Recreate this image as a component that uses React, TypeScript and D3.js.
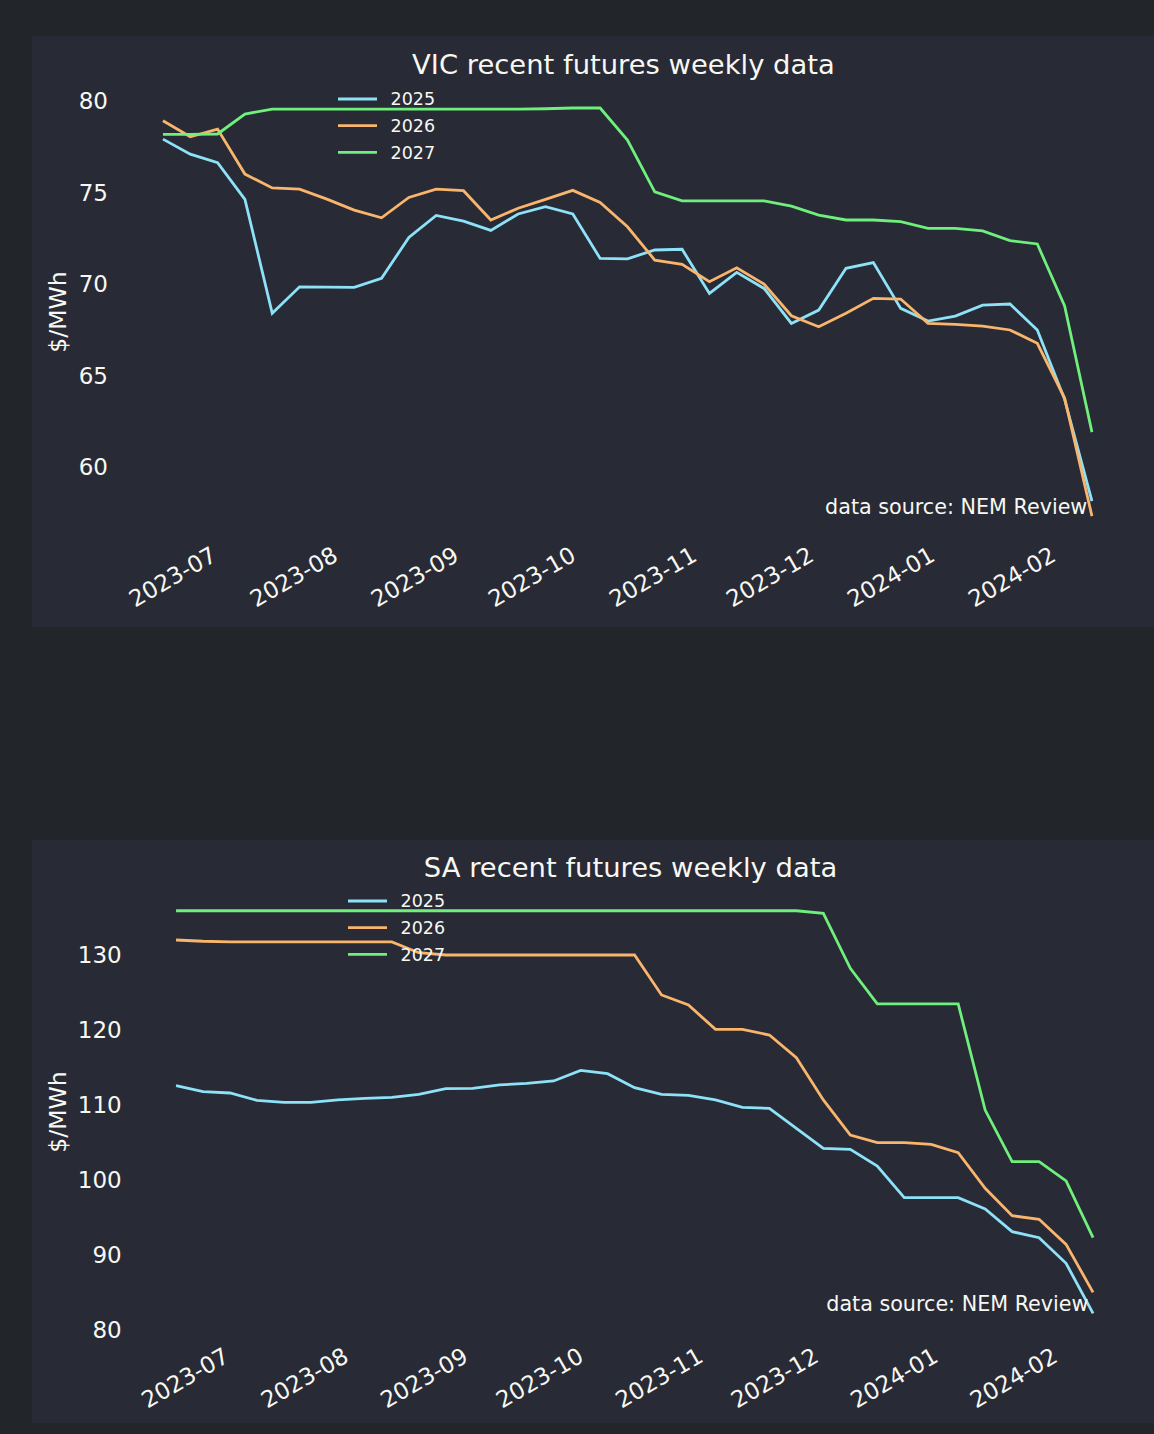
import React from 'react';
import * as d3 from 'd3';

// weekly observation dates
const weeks = [
  '2023-06-19', '2023-06-26', '2023-07-03', '2023-07-10', '2023-07-17', '2023-07-24', '2023-07-31',
  '2023-08-07', '2023-08-14', '2023-08-21', '2023-08-28', '2023-09-04', '2023-09-11', '2023-09-18',
  '2023-09-25', '2023-10-02', '2023-10-09', '2023-10-16', '2023-10-23', '2023-10-30', '2023-11-06',
  '2023-11-13', '2023-11-20', '2023-11-27', '2023-12-04', '2023-12-11', '2023-12-18', '2023-12-25',
  '2024-01-01', '2024-01-08', '2024-01-15', '2024-01-22', '2024-01-29', '2024-02-05', '2024-02-12',
];

const vic2025 = [
  77.92, 77.1, 76.63, 74.63, 68.4, 69.85, 69.83, 69.82, 70.31, 72.55, 73.75, 73.44, 72.93, 73.83,
  74.23, 73.83, 71.4, 71.38, 71.86, 71.9, 69.49, 70.64, 69.76, 67.85, 68.58, 70.86, 71.17, 68.67,
  67.98, 68.25, 68.85, 68.91, 67.49, 63.7, 58.14,
];
const vic2026 = [
  78.92, 78.05, 78.47, 76.01, 75.25, 75.19, 74.64, 74.04, 73.62, 74.73, 75.19, 75.1, 73.5, 74.14,
  74.63, 75.12, 74.46, 73.13, 71.31, 71.08, 70.13, 70.89, 70.0, 68.27, 67.67, 68.4, 69.22, 69.18,
  67.85, 67.8, 67.7, 67.49, 66.76, 63.77, 57.32,
];
const vic2027 = [
  78.18, 78.18, 78.2, 79.29, 79.56, 79.56, 79.56, 79.56, 79.56, 79.56, 79.56, 79.56, 79.56, 79.56,
  79.58, 79.62, 79.62, 77.87, 75.04, 74.55, 74.55, 74.55, 74.55, 74.26, 73.77, 73.5, 73.5, 73.41,
  73.04, 73.04, 72.9, 72.37, 72.19, 68.8, 61.91,
];

const sa2025 = [
  112.57, 111.77, 111.6, 110.62, 110.36, 110.36, 110.67, 110.89, 111.02, 111.42, 112.17, 112.22,
  112.67, 112.89, 113.2, 114.62, 114.17, 112.31, 111.42, 111.29, 110.67, 109.69, 109.56, 106.89,
  104.23, 104.09, 101.87, 97.64, 97.64, 97.64, 96.13, 93.11, 92.31, 88.89, 82.22,
];
const sa2026 = [
  132.0, 131.83, 131.75, 131.75, 131.75, 131.75, 131.75, 131.75, 131.75, 130.3, 130.0, 130.0,
  130.0, 130.0, 130.0, 130.0, 130.0, 130.0, 124.67, 123.33, 120.09, 120.09, 119.33, 116.31,
  110.67, 106.0, 104.98, 104.98, 104.76, 103.64, 98.89, 95.24, 94.76, 91.42, 85.02,
];
const sa2027 = [
  135.9, 135.9, 135.9, 135.9, 135.9, 135.9, 135.9, 135.9, 135.9, 135.9, 135.9, 135.9, 135.9,
  135.9, 135.9, 135.9, 135.9, 135.9, 135.9, 135.9, 135.9, 135.9, 135.9, 135.9, 135.56, 128.22,
  123.47, 123.47, 123.47, 123.47, 109.33, 102.44, 102.44, 99.87, 92.31,
];

const seriesNames = ['2025', '2026', '2027'];
const seriesColors = ['#8de2f8', '#f9b56c', '#6fef7b'];

const monthTicks = [
  '2023-07-01', '2023-08-01', '2023-09-01', '2023-10-01', '2023-11-01', '2023-12-01',
  '2024-01-01', '2024-02-01',
];
const vicTicks = [60, 65, 70, 75, 80];
const saTicks = [80, 90, 100, 110, 120, 130];

const FONT = '"DejaVu Sans", Verdana, sans-serif';
const FG = '#f8f8f2';
const PAGE_BG = '#222529';
const PANEL_BG = '#282a36';

const parse = d3.timeParse('%Y-%m-%d');
const fmt = d3.timeFormat('%Y-%m');

interface Box {
  panelY: number;
  panelH: number;
  left: number;
  right: number;
  top: number;
  bottom: number;
  legendX: number;
  legendY: number;
  xLabelY: number;
}

interface PanelProps {
  title: string;
  series: number[][];
  yTicks: number[];
  box: Box;
}

const Panel: React.FC<PanelProps> = ({ title, series, yTicks, box }) => {
  const dates = weeks.map(d => parse(d) as Date);

  // matplotlib style 5% margins on both axes
  const [d0, d1] = d3.extent(dates) as [Date, Date];
  const xPad = (d1.getTime() - d0.getTime()) * 0.05;
  const x = d3
    .scaleTime()
    .domain([new Date(d0.getTime() - xPad), new Date(d1.getTime() + xPad)])
    .range([box.left, box.right]);

  const all = series.flat();
  const lo = d3.min(all) as number;
  const hi = d3.max(all) as number;
  const yPad = (hi - lo) * 0.05;
  const y = d3
    .scaleLinear()
    .domain([lo - yPad, hi + yPad])
    .range([box.bottom, box.top]);

  const line = d3
    .line<number>()
    .x((_, i) => x(dates[i]))
    .y(v => y(v));

  const cx = (box.left + box.right) / 2 - 4;

  return (
    <g>
      <rect x={32} y={box.panelY} width={1122} height={box.panelH} fill={PANEL_BG} />
      <text x={cx} y={box.top - 13.5} textAnchor="middle" fontSize={27.4} fill={FG}>
        {title}
      </text>

      {/* y axis */}
      {yTicks.map(t => (
        <text
          key={t}
          x={box.left - 8.5}
          y={y(t)}
          dy="0.36em"
          textAnchor="end"
          fontSize={23}
          fill={FG}
        >
          {t}
        </text>
      ))}
      <text
        transform={`translate(66,${(box.top + box.bottom) / 2}) rotate(-90)`}
        textAnchor="middle"
        fontSize={23.5}
        fill={FG}
      >
        $/MWh
      </text>

      {/* x axis */}
      {monthTicks.map(m => {
        const d = parse(m) as Date;
        return (
          <text
            key={m}
            transform={`translate(${x(d)},${box.xLabelY}) rotate(-30)`}
            dy="0.74em"
            textAnchor="end"
            fontSize={23}
            fill={FG}
          >
            {fmt(d)}
          </text>
        );
      })}

      {/* series */}
      {series.map((s, i) => (
        <path
          key={seriesNames[i]}
          d={line(s) as string}
          fill="none"
          stroke={seriesColors[i]}
          strokeWidth={2.8}
        />
      ))}

      {/* legend */}
      {seriesNames.map((n, i) => (
        <g key={n} transform={`translate(${box.legendX},${box.legendY + i * 26.7})`}>
          <line x1={0} x2={39} y1={0} y2={0} stroke={seriesColors[i]} strokeWidth={2.8} />
          <text x={52.5} y={0} dy="0.36em" fontSize={17.5} fill={FG}>
            {n}
          </text>
        </g>
      ))}

      <text
        x={box.left + 0.95 * (box.right - box.left)}
        y={box.bottom - 0.05 * (box.bottom - box.top)}
        textAnchor="end"
        fontSize={20.7}
        fill={FG}
      >
        data source: NEM Review
      </text>
    </g>
  );
};

const vicBox: Box = {
  panelY: 36,
  panelH: 591,
  left: 116.5,
  right: 1138.4,
  top: 87.6,
  bottom: 536.5,
  legendX: 338,
  legendY: 99,
  xLabelY: 545,
};

const saBox: Box = {
  panelY: 840,
  panelH: 583,
  left: 130.2,
  right: 1138.9,
  top: 890.6,
  bottom: 1333.5,
  legendX: 348,
  legendY: 901,
  xLabelY: 1346,
};

const App: React.FC = () => {
  return (
    <svg
      width={1154}
      height={1434}
      style={{ position: 'absolute', left: 0, top: 0, fontFamily: FONT }}
    >
      <rect x={0} y={0} width={1154} height={1434} fill={PAGE_BG} />
      <Panel
        title="VIC recent futures weekly data"
        series={[vic2025, vic2026, vic2027]}
        yTicks={vicTicks}
        box={vicBox}
      />
      <Panel
        title="SA recent futures weekly data"
        series={[sa2025, sa2026, sa2027]}
        yTicks={saTicks}
        box={saBox}
      />
    </svg>
  );
};

export default App;
